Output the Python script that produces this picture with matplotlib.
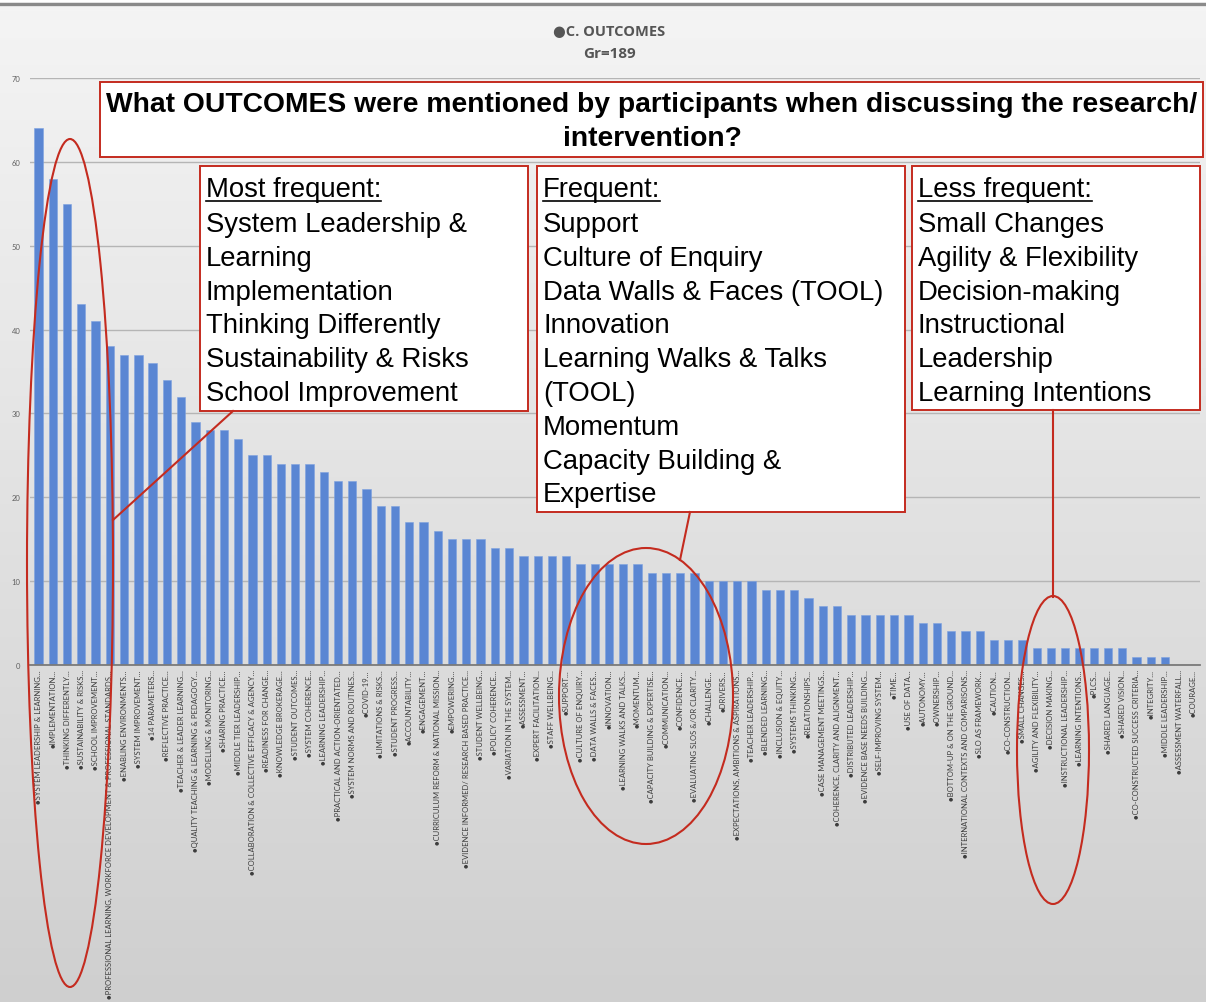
import matplotlib.pyplot as plt
from matplotlib.patches import Rectangle, Ellipse
from matplotlib.colors import LinearSegmentedColormap
import numpy as np

categories = [
    'SYSTEM LEADERSHIP & LEARNING', 'IMPLEMENTATION', 'THINKING DIFFERENTLY',
    'SUSTAINABILITY & RISKS', 'SCHOOL IMPROVEMENT',
    'PROFESSIONAL LEARNING, WORKFORCE DEVELOPMENT & PROFESSIONAL STANDARDS',
    'ENABLING ENVIRONMENTS', 'SYSTEM IMPROVEMENT', '14 PARAMETERS',
    'REFLECTIVE PRACTICE', 'TEACHER & LEADER LEARNING',
    'QUALITY TEACHING & LEARNING & PEDAGOGY', 'MODELLING & MONITORING',
    'SHARING PRACTICE', 'MIDDLE TIER LEADERSHIP',
    'COLLABORATION & COLLECTIVE EFFICACY & AGENCY', 'READINESS FOR CHANGE',
    'KNOWLEDGE BROKERAGE', 'STUDENT OUTCOMES', 'SYSTEM COHERENCE',
    'LEARNING LEADERSHIP', 'PRACTICAL AND ACTION-ORIENTATED',
    'SYSTEM NORMS AND ROUTINES', 'COVID-19', 'LIMITATIONS & RISKS',
    'STUDENT PROGRESS', 'ACCOUNTABILITY', 'ENGAGEMENT',
    'CURRICULUM REFORM & NATIONAL MISSION', 'EMPOWERING',
    'EVIDENCE INFORMED/ RESEARCH BASED PRACTICE', 'STUDENT WELLBEING',
    'POLICY COHERENCE', 'VARIATION IN THE SYSTEM', 'ASSESSMENT',
    'EXPERT FACILITATION', 'STAFF WELLBEING', 'SUPPORT', 'CULTURE OF ENQUIRY',
    'DATA WALLS & FACES', 'INNOVATION', 'LEARNING WALKS AND TALKS', 'MOMENTUM',
    'CAPACITY BUILDING & EXPERTISE', 'COMMUNICATION', 'CONFIDENCE',
    'EVALUATING SLOS &/OR CLARITY', 'CHALLENGE', 'DRIVERS',
    'EXPECTATIONS, AMBITIONS & ASPIRATIONS', 'TEACHER LEADERSHIP',
    'BLENDED LEARNING', 'INCLUSION & EQUITY', 'SYSTEMS THINKING',
    'RELATIONSHIPS', 'CASE MANAGEMENT MEETINGS',
    'COHERENCE, CLARITY AND ALIGNMENT', 'DISTRIBUTED LEADERSHIP',
    'EVIDENCE BASE NEEDS BUILDING', 'SELF-IMPROVING SYSTEM', 'TIME',
    'USE OF DATA', 'AUTONOMY', 'OWNERSHIP', 'BOTTOM-UP & ON THE GROUND',
    'INTERNATIONAL CONTEXTS AND COMPARISONS', 'SLO AS FRAMEWORK', 'CAUTION',
    'CO-CONSTRUCTION', 'SMALL CHANGES', 'AGILITY AND FLEXIBILITY',
    'DECISION MAKING', 'INSTRUCTIONAL LEADERSHIP', 'LEARNING INTENTIONS',
    'PLCS', 'SHARED LANGUAGE', 'SHARED VISION',
    'CO-CONSTRUCTED SUCCESS CRITERIA', 'INTEGRITY', 'MIDDLE LEADERSHIP',
    'ASSESSMENT WATERFALL', 'COURAGE',
]

counts = [
    64, 58, 55, 43, 41, 38, 37, 37, 36, 34, 32, 29, 28, 28, 27, 25, 25, 24,
    24, 24, 23, 22, 22, 21, 19, 19, 17, 17, 16, 15, 15, 15, 14, 14, 13, 13,
    13, 13, 12, 12, 12, 12, 12, 11, 11, 11, 11, 10, 10, 10, 10, 9, 9, 9, 8,
    7, 7, 6, 6, 6, 6, 6, 5, 5, 4, 4, 4, 3, 3, 3, 2, 2, 2, 2, 2, 2, 2, 1, 1,
    1, 0, 0,
]

question = ('What OUTCOMES were mentioned by participants when discussing the research/\n'
            'intervention?')
most_frequent = ['System Leadership &', 'Learning', 'Implementation',
                 'Thinking Differently', 'Sustainability & Risks',
                 'School Improvement']
frequent = ['Support', 'Culture of Enquiry', 'Data Walls & Faces (TOOL)',
            'Innovation', 'Learning Walks & Talks', '(TOOL)', 'Momentum',
            'Capacity Building &', 'Expertise']
less_frequent = ['Small Changes', 'Agility & Flexibility', 'Decision-making',
                 'Instructional', 'Leadership', 'Learning Intentions']

W, H = 1206, 1003
RED = '#c42b1f'
BOX_FONT = 'Liberation Sans'

fig = plt.figure(figsize=(W / 100, H / 100), dpi=100)

# soft grey backdrop with a thin rule along the top
bg = fig.add_axes([0, 0, 1, 1], zorder=0)
grad = np.linspace(0, 1, 256).reshape(-1, 1)
cmap = LinearSegmentedColormap.from_list('bg', ['#f4f4f4', '#e2e2e2', '#cfcfcf'])
bg.imshow(grad, aspect='auto', cmap=cmap, extent=[0, W, H, 8])
bg.plot([0, W], [5, 5], color='#8a8a8a', lw=2.5)
bg.set_xlim(0, W)
bg.set_ylim(H, 0)
bg.axis('off')

# bar chart
ax = fig.add_axes([30 / W, 1 - 666 / H, 1170 / W, (666 - 79) / H], zorder=1)
ax.patch.set_alpha(0)
x = np.arange(len(counts))
ax.bar(x, counts, width=0.58, color='#5a86d3', edgecolor='#7ea2e0',
       linewidth=0.4, zorder=2)
ax.set_xlim(-0.6, len(counts) - 0.55)
ax.set_ylim(0, 70)
ax.set_yticks(range(0, 71, 10))
ax.yaxis.grid(True, color='#b5b5b5', lw=1)
ax.set_axisbelow(True)
for s in ['top', 'right', 'left']:
    ax.spines[s].set_visible(False)
ax.spines['bottom'].set_color('#7a7a7a')
ax.spines['bottom'].set_linewidth(1.3)
ax.tick_params(axis='y', length=0, labelsize=5.5, labelcolor='#606060', pad=7)
ax.tick_params(axis='x', length=0, pad=3)
ax.set_xticks(x)
ax.set_xticklabels(['\u25cf' + c + '\u2026' for c in categories], rotation=90,
                   fontsize=5.5, color='#3c3c3c', va='top', ha='center',
                   family=['Lato', 'DejaVu Sans'])
for lab in ax.get_yticklabels():
    lab.set_family(['Lato', 'DejaVu Sans'])

fig.text(609 / W, 1 - 32 / H, '\u25cfC. OUTCOMES', ha='center', va='center',
         fontsize=10.5, fontweight='bold', color='#555555',
         family=['Open Sans', 'DejaVu Sans'])
fig.text(609 / W, 1 - 54 / H, 'Gr=189', ha='center', va='center',
         fontsize=11, fontweight='bold', color='#555555',
         family=['Open Sans', 'DejaVu Sans'])

# annotation layer in pixel units
ov = fig.add_axes([0, 0, 1, 1], zorder=3)
ov.patch.set_alpha(0)
ov.set_xlim(0, W)
ov.set_ylim(H, 0)
ov.axis('off')

ov.add_patch(Rectangle((100, 83), 1103, 75, fc='white', ec=RED, lw=1.4))
ov.text(652, 122, question, ha='center', va='center', fontsize=20.3,
        fontweight='bold', family=BOX_FONT, linespacing=1.4)

headers = []


def list_box(x0, y0, w, h, title, items):
    ov.add_patch(Rectangle((x0, y0), w, h, fc='white', ec=RED, lw=1.4))
    t = ov.text(x0 + 6, y0 + 23, title, va='center', fontsize=19.8,
                family=BOX_FONT)
    headers.append(t)
    for i, item in enumerate(items):
        ov.text(x0 + 6, y0 + 58 + i * 33.8, item, va='center', fontsize=19.8,
                family=BOX_FONT)


list_box(200, 167, 328, 245, 'Most frequent:', most_frequent)
list_box(537, 167, 368, 346, 'Frequent:', frequent)
list_box(912, 167, 288, 244, 'Less frequent:', less_frequent)

# rings around the highlighted bars and leader lines to the boxes
ov.add_patch(Ellipse((70, 564), 86, 848, fill=False, ec=RED, lw=1.5))
ov.add_patch(Ellipse((646, 697), 174, 296, fill=False, ec=RED, lw=1.5))
ov.add_patch(Ellipse((1053, 751), 72, 308, fill=False, ec=RED, lw=1.5))
ov.plot([113, 233], [521, 412], color=RED, lw=1.5)
ov.plot([680, 690], [561, 513], color=RED, lw=1.5)
ov.plot([1053, 1053], [598, 411], color=RED, lw=1.5)

# underline the box headings
fig.canvas.draw()
inv = ov.transData.inverted()
for t in headers:
    bb = t.get_window_extent()
    (xa, ya), (xb, yb) = inv.transform([[bb.x0, bb.y0], [bb.x1, bb.y1]])
    ov.plot([xa, xb], [ya - 1, ya - 1], color='black', lw=1.2)

fig.savefig('out.png', dpi=100)
